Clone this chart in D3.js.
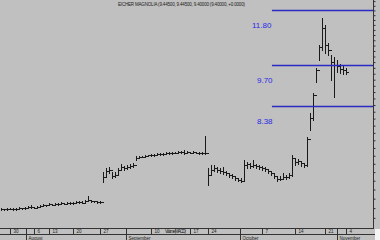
<!DOCTYPE html>
<html>
<head>
<meta charset="utf-8">
<script src="https://cdn.jsdelivr.net/npm/d3@7"></script>
<style>
  body { margin: 0; background: #fff; }
  svg { display: block; font-family: Arial, "Liberation Sans", sans-serif; }
</style>
</head>
<body>
<div class="chart"></div>
<script>
// price bars (one bar per session)
var highs = [5.80,5.79,5.80,5.81,5.80,5.81,5.82,5.81,5.83,5.84,5.86,5.83,5.84,5.86,5.88,5.87,5.90,5.89,5.90,5.91,5.92,5.91,5.92,5.93,5.92,5.94,5.94,5.95,5.98,6.05,5.98,5.96,5.94,5.94,
  6.60,6.70,6.72,6.60,6.60,6.70,6.79,6.74,6.77,6.79,6.82,
  6.99,6.99,7.00,7.01,7.03,7.04,7.05,7.06,7.06,7.07,7.09,7.09,7.09,7.10,7.11,7.11,7.14,7.11,7.10,7.11,7.10,7.09,7.09,7.51,
  6.70,6.77,6.77,6.72,6.70,6.72,6.62,6.58,6.55,6.51,6.46,6.46,6.89,6.84,6.82,6.89,6.79,6.77,6.74,6.72,6.67,6.62,6.55,6.48,6.51,6.58,6.53,6.58,7.02,6.94,6.92,6.87,6.82,
  7.49,8.16,8.77,9.59,10.42,11.48,11.20,10.50,10.05,9.98,9.87,9.73,9.66,9.59];
var lows = [5.76,5.77,5.77,5.78,5.77,5.77,5.79,5.79,5.79,5.80,5.81,5.80,5.81,5.82,5.84,5.85,5.86,5.86,5.87,5.87,5.88,5.88,5.89,5.89,5.89,5.90,5.91,5.90,5.92,5.94,5.93,5.92,5.91,5.91,
  6.37,6.51,6.58,6.46,6.48,6.53,6.65,6.65,6.67,6.70,6.72,
  6.90,6.94,6.96,6.97,6.99,7.00,7.00,7.02,7.02,7.03,7.05,7.05,7.05,7.06,7.07,7.07,7.05,7.07,7.06,7.07,7.06,7.05,7.05,7.05,
  6.30,6.55,6.62,6.60,6.58,6.55,6.53,6.48,6.46,6.41,6.39,6.37,6.41,6.70,6.70,6.72,6.70,6.67,6.65,6.62,6.58,6.53,6.46,6.39,6.41,6.44,6.44,6.46,6.51,6.77,6.79,6.74,6.72,
  6.74,7.68,7.96,9.12,9.87,10.24,10.13,10.05,9.19,8.64,9.46,9.42,9.39,9.39];
var closes = [5.78,5.78,5.78,5.79,5.78,5.79,5.80,5.80,5.80,5.82,5.82,5.81,5.82,5.84,5.86,5.86,5.88,5.87,5.88,5.89,5.90,5.89,5.90,5.91,5.90,5.92,5.92,5.91,5.95,5.97,5.95,5.94,5.92,5.92,
  6.48,6.62,6.65,6.51,6.53,6.65,6.72,6.70,6.72,6.74,6.77,
  6.94,6.97,6.98,6.99,7.01,7.02,7.02,7.04,7.04,7.05,7.07,7.07,7.07,7.08,7.09,7.09,7.07,7.09,7.08,7.09,7.08,7.07,7.07,7.07,
  6.53,6.65,6.70,6.65,6.62,6.60,6.58,6.53,6.51,6.46,6.41,6.39,6.77,6.79,6.74,6.77,6.74,6.72,6.70,6.67,6.62,6.58,6.51,6.44,6.44,6.48,6.48,6.53,6.94,6.84,6.87,6.82,6.77,
  7.43,8.02,8.71,9.53,10.35,11.08,10.42,10.24,9.80,9.70,9.66,9.56,9.53,9.46];

// horizontal levels drawn on the right
var levels = [11.80, 9.70, 8.38];
var levelLabels = ["11.80", "9.70", "8.38"];

// week ticks (bar index) and month breaks
var weekIdx = [3, 11, 16, 24, 33, 50, 63, 69, 87, 98, 108, 115];
var weekLabels = ["30", "6", "13", "20", "27", "10", "17", "24", "7", "14", "21", "4"];
var monthIdx = [8.3, 41.5, 79.5, 112];
var monthLabels = ["August", "September", "October", "November"];

var title = "EICHER MAGNOLIA (9.44500, 9.44500, 9.40000 (9.40000, +0.0000)";

var svgWidth = 380;
var svgHeight = 240;
var plotBottom = 228;
var axisX = 373.5;

var svg = d3.select(".chart")
  .append("svg")
  .attr("width", svgWidth)
  .attr("height", svgHeight);

svg.append("rect")
  .attr("width", svgWidth)
  .attr("height", svgHeight)
  .attr("fill", "#c0c0c0");

var x = d3.scaleLinear()
  .domain([0, closes.length - 1])
  .range([1, 346]);

var y = d3.scaleLog()
  .domain([5.40, 12.25])
  .range([plotBottom, 0]);

// title
svg.append("text")
  .attr("x", 118)
  .attr("y", 6)
  .attr("font-size", "4.5px")
  .attr("textLength", 127)
  .attr("fill", "#222")
  .text(title);

// bars
var bars = svg.append("g")
  .attr("stroke", "#1a1a1a")
  .attr("stroke-width", 1)
  .attr("shape-rendering", "crispEdges");

closes.forEach(function(c, i) {
  var xi = Math.round(x(i)) + 0.5;
  bars.append("line")
    .attr("x1", xi).attr("x2", xi)
    .attr("y1", y(highs[i])).attr("y2", y(lows[i]) + 1);
  bars.append("line")
    .attr("x1", xi).attr("x2", xi + 2)
    .attr("y1", Math.round(y(c)) + 0.5).attr("y2", Math.round(y(c)) + 0.5);
  if (i > 0) {
    bars.append("line")
      .attr("x1", xi - 1).attr("x2", xi)
      .attr("y1", Math.round(y(closes[i - 1])) + 0.5).attr("y2", Math.round(y(closes[i - 1])) + 0.5);
  }
});

// level lines
var levelG = svg.append("g");
levels.forEach(function(v, i) {
  var ly = Math.round(y(v)) + 0.5;
  levelG.append("line")
    .attr("x1", x(90.3)).attr("x2", axisX)
    .attr("y1", ly).attr("y2", ly)
    .attr("stroke", "#2b2bc4")
    .attr("stroke-width", 1.4);
  levelG.append("text")
    .attr("x", i === 0 ? 252 : 257)
    .attr("y", ly + 17)
    .attr("font-size", "8px")
    .attr("fill", "#2a2ae6")
    .text(levelLabels[i]);
});

// right axis
var rightAxis = d3.axisRight(y)
  .tickValues(d3.range(5.6, 12.21, 0.2))
  .tickSize(2)
  .tickSizeOuter(0)
  .tickFormat("");

var yAxis = svg.append("g")
  .attr("transform", `translate(${axisX}, 0)`)
  .call(rightAxis);
yAxis.select(".domain").attr("stroke", "#333").attr("d", `M0,0V${plotBottom}`);
yAxis.selectAll(".tick line").attr("stroke", "#333");

// white corner below the price axis
svg.append("rect")
  .attr("x", 375).attr("y", plotBottom + 1)
  .attr("width", 5).attr("height", svgHeight - plotBottom)
  .attr("fill", "#f4f4f4");

// bottom axis strip
var xAxis = svg.append("g")
  .attr("stroke", "#333")
  .attr("shape-rendering", "crispEdges");
xAxis.append("line")
  .attr("x1", 0).attr("x2", axisX)
  .attr("y1", plotBottom + 0.5).attr("y2", plotBottom + 0.5);
xAxis.append("line")
  .attr("x1", 0).attr("x2", 375)
  .attr("y1", 234.5).attr("y2", 234.5);

weekIdx.forEach(function(d, i) {
  var tx = Math.round(x(d)) + 0.5;
  xAxis.append("line")
    .attr("x1", tx).attr("x2", tx)
    .attr("y1", plotBottom).attr("y2", 234);
  svg.append("text")
    .attr("x", tx + 3)
    .attr("y", 233)
    .attr("font-size", "4.5px")
    .attr("fill", "#222")
    .text(weekLabels[i]);
});

monthIdx.forEach(function(d, i) {
  var tx = Math.round(x(d)) + 0.5;
  xAxis.append("line")
    .attr("x1", tx).attr("x2", tx)
    .attr("y1", plotBottom).attr("y2", svgHeight);
  svg.append("text")
    .attr("x", tx + 2)
    .attr("y", 239.5)
    .attr("font-size", "4.5px")
    .attr("fill", "#222")
    .text(monthLabels[i]);
});

svg.append("text")
  .attr("x", 165)
  .attr("y", 233)
  .attr("font-size", "4.5px")
  .attr("textLength", 21)
  .attr("fill", "#222")
  .text("Volume(MACD)");
</script>
</body>
</html>
